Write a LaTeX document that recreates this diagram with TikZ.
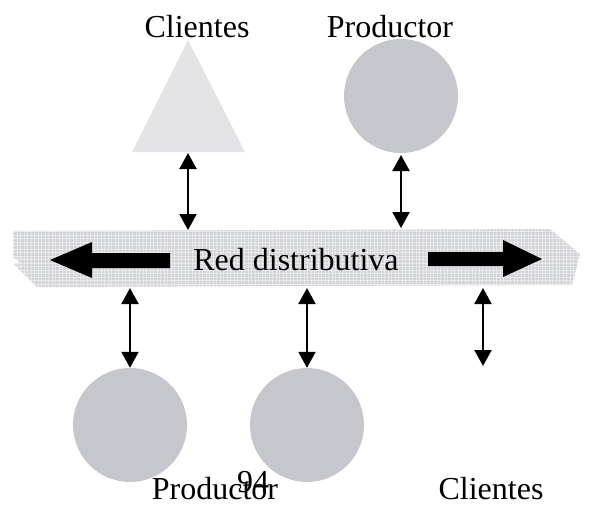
\documentclass[tikz,border=0pt]{standalone}
\usepackage{fontspec}
\setmainfont{Liberation Serif}
\usetikzlibrary{arrows.meta}
\definecolor{shapegray}{HTML}{C5C7CD}
\definecolor{trigray}{HTML}{E3E3E5}
\definecolor{bandgray}{HTML}{D3D4D8}
\tikzset{
  label/.style={anchor=base, inner sep=0pt, font=\fontsize{32}{38}\selectfont},
  disc/.style={circle, fill=shapegray, inner sep=0pt, minimum size=114pt},
  link/.style={line width=2.2pt, {Triangle[width=17pt,length=16pt]}-{Triangle[width=17pt,length=16pt]}},
  bigarrow/.style={fill=black},
}
\begin{document}
\begin{tikzpicture}[x=1pt,y=-1pt]
\useasboundingbox (0,0) rectangle (589,504);

% distribution band with torn ends and a fine grid texture
\path[fill=bandgray] (13,231) -- (550,229) -- (580,254) -- (572,285) -- (37,287)
  -- (14,264) -- (20,262) -- (13,257) -- cycle;
\begin{scope}
  \clip (13,231) -- (550,229) -- (580,254) -- (572,285) -- (37,287)
    -- (14,264) -- (20,262) -- (13,257) -- cycle;
  \foreach \gx in {10,13.5,...,585} \draw[white, opacity=0.45, line width=0.6pt] (\gx,225) -- (\gx,292);
  \foreach \gy in {228,231.5,...,292} \draw[white, opacity=0.45, line width=0.6pt] (8,\gy) -- (585,\gy);
\end{scope}

% large direction arrows on the band
\fill[bigarrow] (50,260) -- (92,242) -- (92,253) -- (170,253) -- (170,268) -- (92,268) -- (92,278) -- cycle;
\fill[bigarrow] (542,259) -- (503,240) -- (503,252) -- (428,252) -- (428,266) -- (503,266) -- (503,277) -- cycle;
\node[label] (red) at (296,270) {Red distributiva};

% customers (top)
\fill[trigray] (188,40) -- (245,152) -- (132,152) -- cycle;
\coordinate (tri) at (188,153);
\node[label] (cliA) at (197,37) {Clientes};

% producers
\node[disc] (prodA) at (401,96) {};
\node[label] (prodAtxt) at (390,37) {Productor};
\node[disc] (prodB) at (130,425) {};
\node[disc] (prodC) at (307,425) {};
\node[label] (prodBtxt) at (215,499) {Productor};
\node[label] (page) at (253,492) {94};
\node[label] (cliB) at (491,499) {Clientes};

% band attachment points
\coordinate (bA) at (188,230);
\coordinate (bB) at (401,228);
\coordinate (bC) at (130,288);
\coordinate (bD) at (307,288);
\coordinate (bE) at (483,288);
\coordinate (cE) at (483,366);
\coordinate (pA) at (401,155);

% two-way links
\draw[link] (tri) -- (bA);
\draw[link] (pA) -- (bB);
\draw[link] (bC) -- (prodB.north);
\draw[link] (bD) -- (prodC.north);
\draw[link] (bE) -- (cE);
\end{tikzpicture}
\end{document}
